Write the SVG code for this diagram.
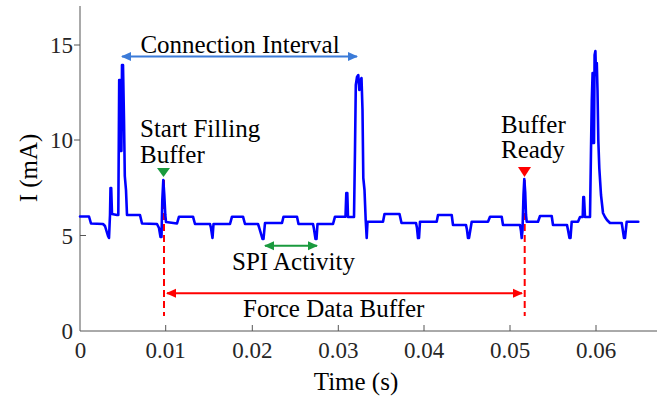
<svg xmlns="http://www.w3.org/2000/svg" width="662" height="400" viewBox="0 0 662 400">
<style>
text{font-family:"Liberation Serif","DejaVu Serif",serif;}
.tick{font-size:23px;fill:#262626;}
.lab{font-size:25px;fill:#000;}
.ax{stroke:#555;stroke-width:1;fill:none;}
.trace{fill:none;stroke:#0000ff;stroke-width:2.6;stroke-linejoin:round;stroke-linecap:round;}
.dash{stroke:#ff0000;stroke-width:2;stroke-dasharray:7 4;fill:none;}
</style>
<defs>
<marker id="hb" viewBox="0 0 10 10" refX="9" refY="5" markerWidth="10" markerHeight="10" markerUnits="userSpaceOnUse" orient="auto-start-reverse"><path d="M0,0.5 L10,5 L0,9.5 Z" fill="#3b7bd8"/></marker>
<marker id="hg" viewBox="0 0 10 10" refX="9" refY="5" markerWidth="10" markerHeight="10" markerUnits="userSpaceOnUse" orient="auto-start-reverse"><path d="M0,0.5 L10,5 L0,9.5 Z" fill="#1a9a3e"/></marker>
<marker id="hr" viewBox="0 0 10 10" refX="9" refY="5" markerWidth="10" markerHeight="10" markerUnits="userSpaceOnUse" orient="auto-start-reverse"><path d="M0,0.5 L10,5 L0,9.5 Z" fill="#ff0000"/></marker>
</defs>
<rect width="662" height="400" fill="#fff"/>
<g id="axes">
<path class="ax" d="M80,6 V331 H657"/>
<path class="ax" d="M74,45 H80 M74,140 H80 M80,235.5 H86 M165.7,331 V325 M252.3,331 V325 M338.3,331 V325 M424,331 V325 M510,331 V325 M596,331 V325"/>
<g class="tick" text-anchor="end">
<text x="73" y="339">0</text>
<text x="73" y="243.5">5</text>
<text x="73" y="148">10</text>
<text x="73" y="53">15</text>
</g>
<g class="tick" text-anchor="middle">
<text x="80.5" y="358">0</text>
<text x="165.7" y="358">0.01</text>
<text x="252.3" y="358">0.02</text>
<text x="338.3" y="358">0.03</text>
<text x="424" y="358">0.04</text>
<text x="510" y="358">0.05</text>
<text x="596" y="358">0.06</text>
</g>
<text class="lab" x="356" y="390" text-anchor="middle" fill="#262626">Time (s)</text>
<text class="lab" transform="translate(37,168) rotate(-90)" text-anchor="middle" fill="#262626">I (mA)</text>
</g>
<g id="guides">
<line class="dash" x1="164" y1="180" x2="164" y2="316"/>
<line class="dash" x1="524.7" y1="180" x2="524.7" y2="316"/>
</g>
<g id="trace">
<polyline class="trace" points="80,216.5 89,216.5 91,223.5 103,224 105,226 108,236 109,238 110,215 110.5,188 111.2,188 112,214 117,215 118.3,215 119.2,80 120,80 120.6,151 121.4,151 122,65 123,65 124,120 124.8,176 126,190 127,215 140,215 142,223.5 157,224 159,228 160.5,237 161.5,237 162.3,200 163.3,180 164.3,195 165.3,215 166,222 177,223.5 179,216.7 193,216.7 195,224 210,224 211,228 212.5,238 213.5,224 230,224 232,216.7 243,216.7 245,224 258,224 259,227 262.5,239 263.5,239 265,223 282,223 283.5,216.7 297,216.7 298.5,224 313,224 314,229 315.5,239 316.5,239 317.5,224 333,224 335,216.7 345.5,216.7 346.3,193 347.3,193 348,217 354,217 355,150 355.8,85 357,77 358.3,75 359.3,90 360.2,82 361.5,78 362.5,110 363.3,178 364.5,190 365.7,220 366.7,238 367.5,221.7 383,221.7 384.5,214 399.5,214 401.5,223 416,223 417,228 418,238 419,238 420,221.7 436.7,221.7 438,215 451.7,215 453,225 466,225 467,230 468,238 469,238 471.7,221.7 488,221.7 490,216.7 501.7,216.7 503,225 520,225 521,231 521.7,238 522.5,230 523.5,195 524.3,179 525.2,192 526,215 526.7,221.7 538,221.7 540,216 551.7,216 553,225 567,225 568,230 569.5,238 570.5,238 571.7,221.7 578,221.7 580,217 582.7,217 583.3,197 584,197 585,217 590,217 591,150 591.8,100 592.6,73 593.2,143 594,143 594.6,55 595.4,51 596,75 596.8,63 597.5,90 598.3,140 599.3,168 601,195 603,213 605,217 607,220 610,223 621.7,223 622.5,228 624,238 625,238 626.7,221.7 638.3,221.7"/>
</g>
<g id="connection-interval">
<line x1="122" y1="56.5" x2="357" y2="56.5" stroke="#3b7bd8" stroke-width="2" marker-start="url(#hb)" marker-end="url(#hb)"/>
<text class="lab" x="240" y="53" text-anchor="middle">Connection Interval</text>
</g>
<g id="start-filling">
<polygon points="157,168 170,168 163.5,177" fill="#1a9a3e"/>
<text class="lab" x="140" y="137">Start Filling</text>
<text class="lab" x="140" y="163">Buffer</text>
</g>
<g id="buffer-ready">
<polygon points="518,167 531,167 524.5,177" fill="#ff0000"/>
<text class="lab" x="501" y="133">Buffer</text>
<text class="lab" x="501" y="158">Ready</text>
</g>
<g id="spi-activity">
<line x1="265" y1="245.7" x2="317" y2="245.7" stroke="#1a9a3e" stroke-width="2" marker-start="url(#hg)" marker-end="url(#hg)"/>
<text class="lab" x="232" y="270">SPI Activity</text>
</g>
<g id="force-data-buffer">
<line x1="167" y1="293.3" x2="522" y2="293.3" stroke="#ff0000" stroke-width="2" marker-start="url(#hr)" marker-end="url(#hr)"/>
<text class="lab" x="243" y="317">Force Data Buffer</text>
</g>
</svg>
